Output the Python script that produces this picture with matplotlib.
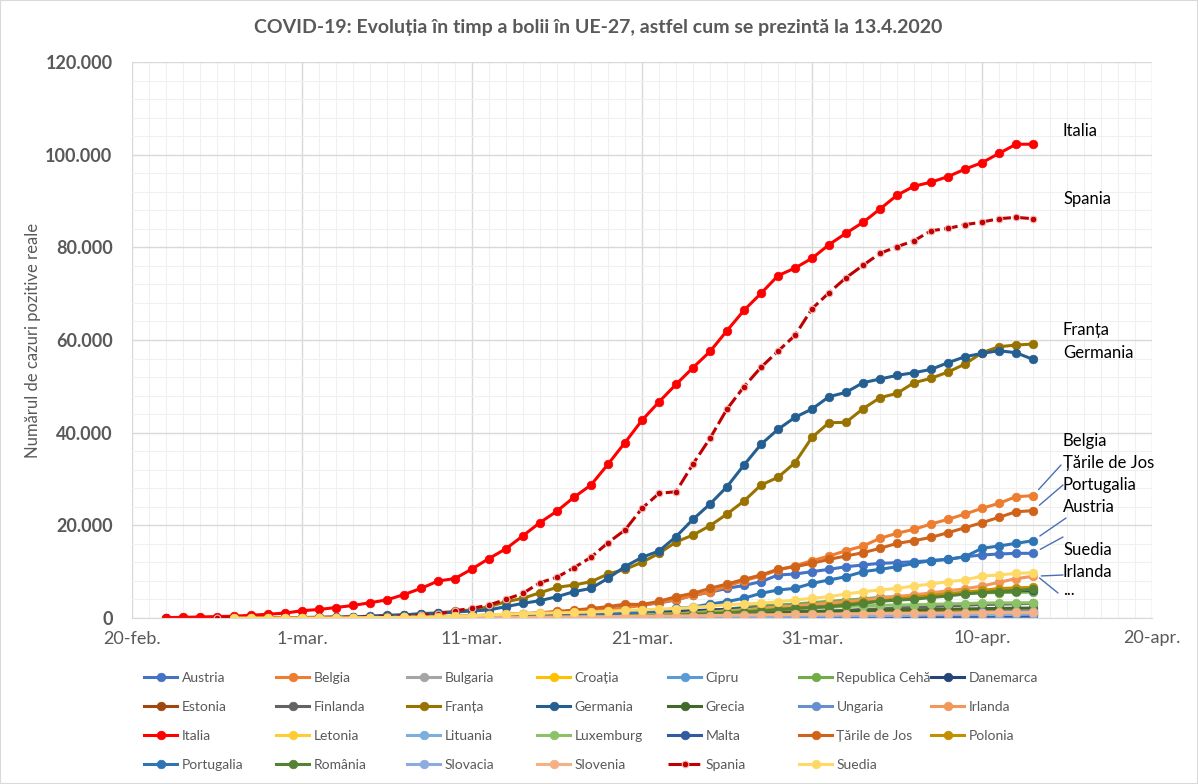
import pandas as pd
import matplotlib
matplotlib.use('Agg')
import matplotlib.pyplot as plt
from matplotlib.ticker import FixedLocator, MultipleLocator, FuncFormatter
from matplotlib.patches import Rectangle
import matplotlib.dates as mdates

plt.rcParams['font.family'] = ['Lato', 'DejaVu Sans']

# ---- data: (first date, daily values up to 13.4.2020) ----
austria = [2, 2, 3, 5, 9,
           14, 18, 24, 29, 41, 55, 79, 104, 131, 182, 206, 302, 504, 655, 860, 1016, 1332, 1646, 2013, 2388,
           2814, 3244, 3924, 4876, 5560, 6398, 7029, 7840, 9280, 9490, 10000,
           10500, 11070, 11440, 11800, 11940, 12160, 12370, 12660, 13230, 13600, 13810, 13960, 13960]
belgia = [2, 8, 13, 23, 50, 109, 169, 200, 239, 267, 314, 399, 559, 689, 886, 1058, 1243, 1486, 1795, 2257,
          2700, 3400, 3900, 4900, 5600, 6900, 8050, 9060, 10360, 11290, 12370,
          13380, 14520, 15540, 17200, 18280, 19140, 20280, 21300, 22440, 23670, 24750, 26180, 26400]
bulgaria = [4, 4, 6, 7, 7, 23, 41, 51, 52, 67, 92, 94, 127, 163, 187, 201, 218, 242, 264, 293, 331, 346, 359, 399,
            422, 457, 485, 503, 531, 549, 577, 593, 618, 635, 661, 675, 685]
croatia = [3, 3, 5, 7,
           7, 9, 10, 10, 11, 11, 12, 12, 12, 13, 14, 25, 32, 38, 49, 57, 65, 81, 105, 128, 206, 254, 315, 382, 442,
           495, 586, 657, 713, 790, 867,
           963, 1011, 1079, 1126, 1182, 1222, 1282, 1343, 1407, 1495, 1534, 1600, 1650]
cipru = [2, 6, 6, 14, 26, 26, 33, 46, 49, 67, 67, 84, 95, 116, 124, 132, 146, 162, 179, 214, 230, 262, 320,
         356, 396, 426, 446, 465, 494, 526, 564, 595, 616, 633, 662, 695]
cehia = [3, 3, 5, 5, 8, 19, 26, 32, 38, 63, 94, 116, 141, 189, 298, 383, 450, 560, 765, 889, 1047, 1161, 1287,
         1472, 1654, 1925, 2279, 2631, 2817, 3001, 3308,
         3589, 3858, 4091, 4472, 4587, 4822, 5017, 5312, 5400, 5450, 5500, 5550, 5600]
danemarca = [1, 1, 3,
             4, 4, 6, 10, 10, 23, 23, 35, 90, 262, 442, 615, 801, 827, 864, 914, 977, 1057, 1151, 1255, 1326, 1395,
             1450, 1591, 1724, 1877, 2046, 2201, 2395, 2564, 2755,
             2860, 3107, 3386, 3757, 4077, 4369, 4681, 5071, 5402, 5635, 5819, 5900, 5950]
estonia = [1, 1,
           1, 1, 2, 3, 3, 10, 10, 10, 10, 13, 17, 27, 79, 115, 171, 205, 225, 258, 267, 283, 306, 326, 352, 369,
           404, 538, 575, 645, 679, 715, 745,
           779, 858, 961, 1039, 1097, 1108, 1149, 1185, 1207, 1258, 1304, 1309, 1332]
finlanda = [1, 2, 2, 3,
            6, 7, 7, 7, 12, 15, 19, 23, 30, 40, 59, 109, 155, 225, 244, 272, 319, 400, 450, 521, 626, 700, 792, 880,
            958, 1041, 1167, 1240, 1352, 1418, 1446,
            1518, 1615, 1882, 1927, 2176, 2308, 2487, 2605, 2769, 2905, 2974, 3064, 3161]
franta = [12, 12, 12, 12, 14, 18, 38, 57,
          100, 130, 191, 212, 285, 423, 653, 949, 1126, 1412, 1784, 2450, 3520, 4250, 5460, 6620, 7120, 7840, 9490,
          10500, 12020, 13960, 16400, 17910, 19920, 22440, 25250, 28700, 30360, 33520, 39000,
          42150, 42230, 45170, 47540, 48490, 50780, 51730, 53090, 54810, 57250, 58550, 58910, 59130]
germania = [16, 16, 16, 16, 18, 26, 48, 79,
            100, 150, 180, 240, 400, 600, 700, 850, 1000, 1300, 1500, 1750, 2450, 3170, 3740, 4600, 5680, 6400,
            8560, 11080, 13100, 14460, 17550, 21300, 24600, 28340, 33020, 37480, 40720, 43310, 45100,
            47760, 48700, 50780, 51580, 52370, 52940, 53660, 55100, 56390, 57110, 57690, 57250, 55820]
grecia = [1, 3, 4,
          7, 7, 7, 9, 31, 45, 46, 73, 73, 89, 99, 99, 190, 228, 331, 331, 387, 418, 418, 495, 530, 624, 695, 743,
          821, 892, 966, 1061, 1156, 1212, 1314,
          1415, 1544, 1613, 1673, 1735, 1755, 1832, 1884, 1955, 2011, 2081, 2114, 2145]
ungaria = [2, 2, 4, 7, 9, 9, 13, 13, 19, 30, 32, 39, 50, 58, 73, 85, 103, 131, 167, 187, 226, 261, 300, 343, 408,
           447, 492,
           525, 585, 623, 678, 733, 744, 817, 895, 980, 1190, 1310, 1410, 1458]
irlanda = [1, 1, 2, 6, 6, 13, 18, 19, 21, 24, 34, 43, 70, 90, 129, 169, 223, 292, 366, 557, 683, 785, 906, 1125,
           1330, 1560, 1800, 2100, 2400, 2600, 2900,
           3200, 3500, 3900, 4300, 4600, 5000, 5400, 5900, 6300, 6900, 7700, 8500, 9000]
italia = [79, 150, 221, 311, 385, 588, 821, 1049,
          1577, 1835, 2263, 2706, 3296, 3916, 5061, 6387, 7985, 8514, 10590, 12839, 14955, 17750, 20603, 23073,
          26062, 28710, 33190, 37860, 42681, 46638, 50418, 54030, 57521, 62013, 66414, 70065, 73880, 75528, 77635,
          80572, 83049, 85388, 88274, 91246, 93187, 94067, 95262, 96877, 98273, 100269, 102253, 102253]
letonia = [1, 1, 1, 1, 2, 2, 6, 8, 10, 10, 17, 26, 30, 34, 49, 71, 86, 111, 124, 139, 180, 197, 221, 244, 280,
           305, 347, 376, 398,
           446, 458, 493, 509, 533, 542, 548, 577, 589, 612, 630, 651, 655]
lituania = [1, 1,
            1, 1, 1, 1, 1, 1, 1, 1, 1, 2, 3, 6, 8, 12, 17, 25, 27, 49, 69, 105, 143, 179, 209, 274, 299, 358, 394,
            460, 491, 537, 581,
            649, 696, 771, 811, 843, 880, 912, 955, 999, 1026, 1053, 1070, 1091]
luxemburg = [1, 1, 1, 1, 2, 3, 4, 5, 5, 7, 7, 26, 34, 51, 59, 81, 140, 203, 335, 484, 670, 798, 875, 1099, 1333,
             1453, 1605, 1831, 1950, 1988, 2178,
             2319, 2487, 2612, 2729, 2804, 2843, 2970, 3034, 3115, 3223, 3270, 3281, 3292]
malta = [3, 3, 4, 5, 6, 12, 18, 21, 30, 38, 38, 48, 53, 64, 73, 90, 107, 110, 129, 134, 139, 149, 151, 156, 167,
         188, 196, 202, 213, 227, 241, 293, 299, 337, 350, 370, 378, 384]
tarile_de_jos = [1, 2, 7,
                 10, 18, 24, 38, 82, 128, 188, 265, 321, 382, 503, 614, 804, 959, 1135, 1413, 1705, 2051, 2460,
                 2994, 2900, 3600, 4600, 5330, 6400, 7340, 8350, 9280, 10510, 11070, 11800,
                 12660, 13380, 14090, 15040, 16110, 16680, 17410, 18410, 19490, 20570, 21730, 22940, 23160]
polonia = [1, 1, 5, 5, 11, 16, 22, 31, 51, 68, 104, 125, 177, 238, 251, 355, 425, 536, 634, 749, 901, 1051, 1221,
           1389, 1638, 1862, 2055, 2311,
           2554, 2946, 3383, 3627, 4102, 4413, 4848, 5205, 5575, 5955, 6356, 6500, 6600]
portugalia = [2, 4, 6, 9, 13, 21, 30, 39, 41, 59, 78, 112, 169, 245, 331, 448, 642, 785, 1020, 1280,
              1600, 2060, 2362, 2995, 3544, 4268, 5330, 6040, 6400, 7480,
              8200, 8920, 10000, 10500, 11070, 11800, 12370, 12660, 13230, 15040, 15540, 16110, 16680]
romania = [1, 1, 3, 3,
           3, 3, 3, 4, 6, 9, 9, 15, 15, 25, 45, 49, 89, 123, 131, 158, 184, 260, 277, 308, 367, 433, 576, 762, 906,
           1029, 1292, 1452, 1815, 2109, 2245,
           2460, 2738, 3183, 3613, 3864, 4057, 4417, 4761, 5202, 5467, 5700, 5900, 6200]
slovacia = [1, 3, 5, 7, 10, 16, 32, 44, 54, 63, 72, 105, 123, 137, 178, 185, 186, 204, 216, 226, 269, 292, 314,
            336, 363, 400,
            426, 450, 471, 485, 534, 581, 682, 701, 715, 728, 742, 769, 835]
slovenia = [1, 6, 8, 12, 16, 23, 34, 57, 96, 141, 181, 219, 253, 275, 286, 341, 383, 414, 442, 480, 528, 562, 632,
            684, 730, 756, 802,
            841, 897, 934, 977, 997, 1021, 1059, 1091, 1124, 1160, 1188, 1205, 1212]
spania = [6, 11, 15, 32, 40,
          66, 114, 150, 198, 257, 300, 430, 600, 860, 1580, 2090, 2800, 4030, 5330, 7620, 8800, 10860, 13100,
          16250, 18990, 23670, 26900, 27260, 33230, 38780, 45100, 49920, 54100, 57600, 61000, 66750,
          70200, 73440, 76110, 78700, 80130, 81420, 83580, 84090, 84880, 85460, 86180, 86470, 86180]
suedia = [1, 1, 7, 12,
          14, 15, 21, 35, 94, 101, 161, 203, 248, 355, 500, 687, 814, 961, 1022, 1103, 1190, 1279, 1439, 1639,
          1763, 1934, 2046, 2286, 2526, 2840, 3069, 3170, 3520, 3880, 4250,
          4600, 5180, 5680, 6040, 6400, 6900, 7340, 7840, 8200, 9060, 9280, 9640, 9780]

series = [
    ('Austria', '2020-02-25', austria, '#4472C4'),
    ('Belgia', '2020-03-01', belgia, '#ED7D31'),
    ('Bulgaria', '2020-03-08', bulgaria, '#A5A5A5'),
    ('Croația', '2020-02-26', croatia, '#FFC000'),
    ('Cipru', '2020-03-09', cipru, '#5B9BD5'),
    ('Republica Cehă', '2020-03-01', cehia, '#70AD47'),
    ('Danemarca', '2020-02-27', danemarca, '#264478'),
    ('Estonia', '2020-02-28', estonia, '#9E480E'),
    ('Finlanda', '2020-02-26', finlanda, '#636363'),
    ('Franța', '2020-02-22', franta, '#997300'),
    ('Germania', '2020-02-22', germania, '#255E91'),
    ('Grecia', '2020-02-27', grecia, '#43682B'),
    ('Ungaria', '2020-03-05', ungaria, '#698ED0'),
    ('Irlanda', '2020-03-01', irlanda, '#F1975A'),
    ('Italia', '2020-02-22', italia, '#FF0000'),
    ('Letonia', '2020-03-03', letonia, '#FFCD33'),
    ('Lituania', '2020-02-28', lituania, '#7CAFDD'),
    ('Luxemburg', '2020-03-01', luxemburg, '#8CC168'),
    ('Malta', '2020-03-07', malta, '#335AA1'),
    ('Țările de Jos', '2020-02-27', tarile_de_jos, '#D0631A'),
    ('Polonia', '2020-03-04', polonia, '#C09000'),
    ('Portugalia', '2020-03-02', portugalia, '#2E75B6'),
    ('România', '2020-02-26', romania, '#548235'),
    ('Slovacia', '2020-03-06', slovacia, '#8FAADC'),
    ('Slovenia', '2020-03-05', slovenia, '#F4B183'),
    ('Spania', '2020-02-25', spania, '#C00000'),
    ('Suedia', '2020-02-26', suedia, '#FFD966'),
]

# right-hand labels (name, y position in picture pixels)
end_labels = [('Italia', 131), ('Spania', 199), ('Franța', 330), ('Germania', 353),
              ('Belgia', 441), ('Țările de Jos', 463), ('Portugalia', 485), ('Austria', 507),
              ('Suedia', 550), ('Irlanda', 572), ('...', 590)]
# leader lines: series -> end point of the line (picture pixels)
leaders = [('Belgia', (1061, 465)), ('Țările de Jos', (1063, 485)), ('Portugalia', (1066, 518)),
           ('Austria', (1063, 537)), ('Irlanda', (1063, 575)), ('Suedia', (1058, 593))]

months_ro = ['ian.', 'feb.', 'mar.', 'apr.', 'mai', 'iun.', 'iul.', 'aug.', 'sept.', 'oct.', 'nov.', 'dec.']
grey = '#595959'

W, H = 1198, 784
fig = plt.figure(figsize=(W / 100, H / 100), dpi=100)
ax = fig.add_axes([132 / W, 1 - 618 / H, (1152 - 132) / W, (618 - 62) / H])

lines = {}
for name, start, vals, col in series:
    d = pd.date_range(start, periods=len(vals), freq='D')
    if name == 'Spania':
        ln, = ax.plot(d, vals, color=col, lw=2.2, ls=(0, (4.5, 1.4)), marker='o', ms=4.8,
                      mfc=col, mec='#F2B8B8', mew=0.8, label=name)
    else:
        ln, = ax.plot(d, vals, color=col, lw=2.2, marker='o', ms=6.2, mfc=col, mec=col, mew=0.5,
                      label=name)
    lines[name] = (ln, d[-1], vals[-1])

ax.set_xlim(pd.Timestamp('2020-02-20'), pd.Timestamp('2020-04-20'))
ax.set_ylim(0, 120000)
ax.xaxis.set_major_locator(FixedLocator(mdates.date2num(pd.date_range('2020-02-20', '2020-04-20', freq='10D'))))
ax.xaxis.set_minor_locator(mdates.DayLocator())
ax.xaxis.set_major_formatter(FuncFormatter(
    lambda v, p: f"{mdates.num2date(v).day}-{months_ro[mdates.num2date(v).month - 1]}"))
ax.yaxis.set_major_locator(MultipleLocator(20000))
ax.yaxis.set_minor_locator(MultipleLocator(4000))
ax.yaxis.set_major_formatter(FuncFormatter(lambda v, p: f"{int(v):,}".replace(',', '.')))

ax.grid(which='major', color='#D9D9D9', lw=1.0, zorder=0)
ax.grid(which='minor', color='#F0F0F0', lw=0.8, zorder=0)
ax.set_axisbelow(True)
for s in ['top', 'right', 'left']:
    ax.spines[s].set_visible(False)
ax.spines['bottom'].set_color('#D9D9D9')
ax.tick_params(which='both', length=0)
ax.tick_params(axis='x', labelsize=13, labelcolor=grey, pad=9)
ax.tick_params(axis='y', labelsize=13, labelcolor=grey, pad=14)
for t in ax.get_yticklabels():
    t.set_fontweight('bold')
ax.set_ylabel('Numărul de cazuri pozitive reale', fontsize=12, color=grey, labelpad=3)

fig.text(598 / W, 1 - 27 / H, 'COVID-19: Evoluția în timp a bolii în UE-27, astfel cum se prezintă la 13.4.2020',
         ha='center', va='center', fontsize=14, fontweight='bold', color=grey)

for name, yp in end_labels:
    fig.text(1063 / W, 1 - yp / H, name, ha='left', va='center', fontsize=12, color='black')

for name, (px, py) in leaders:
    ln, xd, yd = lines[name]
    ax.annotate('', xy=(xd, yd), xytext=(px, H - py), textcoords='figure pixels',
                arrowprops=dict(arrowstyle='-', color='#4A6FB5', lw=1.0, shrinkA=0, shrinkB=6))

# legend: 7 fixed-width columns, filled row by row
col_x = [144, 276, 407, 537, 668, 799, 931]
names = [s[0] for s in series]
for c, x in enumerate(col_x):
    idx = [r * 7 + c for r in range(4) if r * 7 + c < len(names)]
    fig.legend([lines[names[i]][0] for i in idx], [names[i] for i in idx],
               loc='upper left', bbox_to_anchor=(x / W, 1 - 672 / H), frameon=False,
               borderpad=0, borderaxespad=0, handlelength=2.4, handletextpad=0.3,
               labelspacing=1.22, fontsize=10, labelcolor=grey)

fig.patches.append(Rectangle((0, 0), 1, 1, transform=fig.transFigure, fill=False,
                             edgecolor='#D9D9D9', lw=1.5))

fig.savefig('out.png', dpi=100)
